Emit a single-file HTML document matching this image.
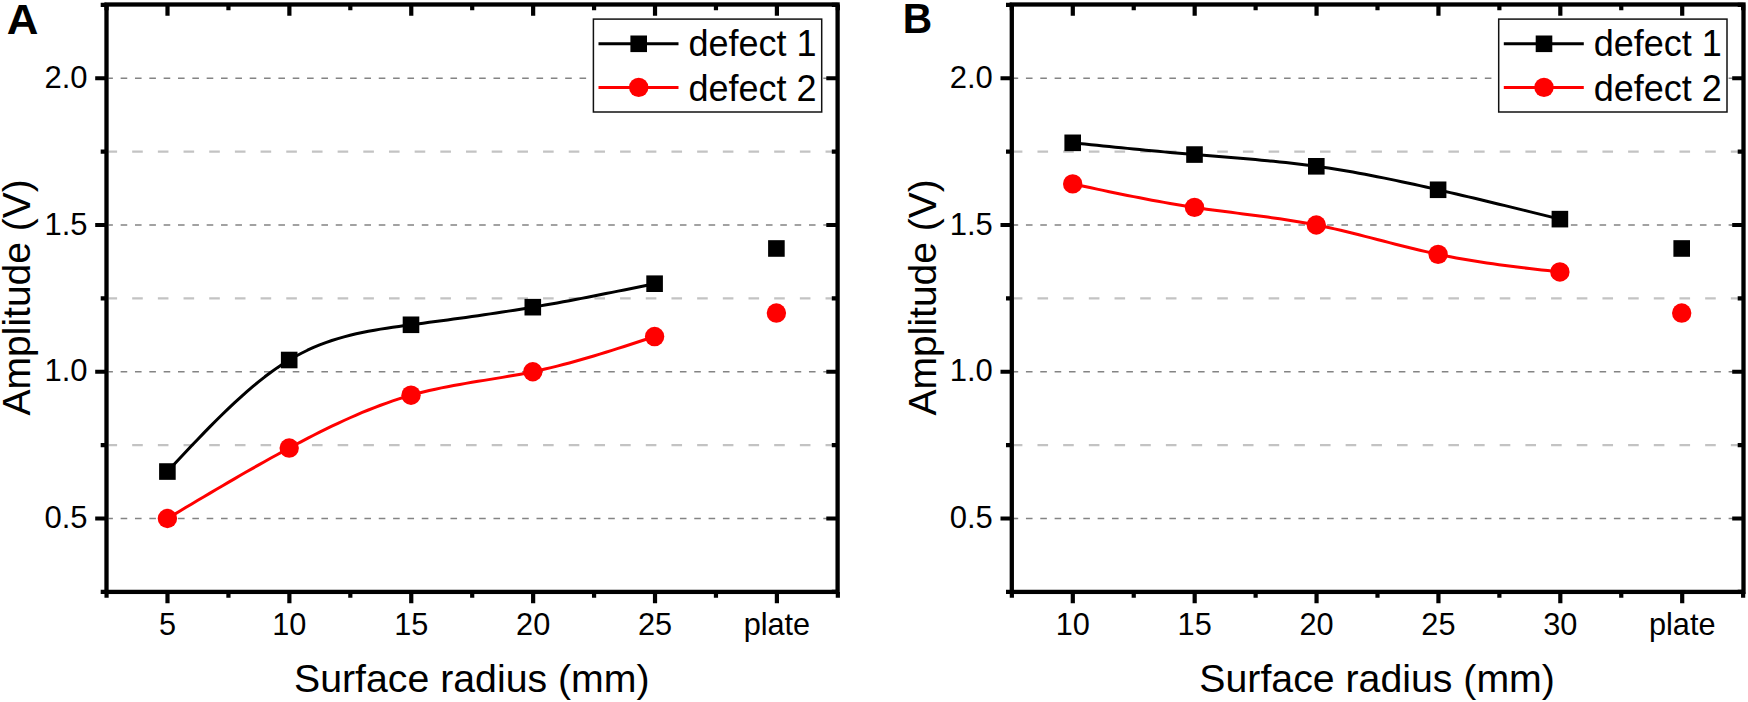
<!DOCTYPE html>
<html lang="en">
<head>
<meta charset="utf-8">
<title>Amplitude vs surface radius</title>
<style>
html,body{margin:0;padding:0;background:#fff;}
body{width:1748px;height:702px;overflow:hidden;}
svg{display:block;}
svg text{font-family:"Liberation Sans",sans-serif;fill:#000;}
</style>
</head>
<body>
<svg width="1748" height="702" viewBox="0 0 1748 702">
<rect width="1748" height="702" fill="#fff"/>
<g id="panelA">
<line x1="108.5" y1="518.5" x2="835.6" y2="518.5" stroke="#848484" stroke-width="1.65" stroke-dasharray="6.6 7.74" stroke-dashoffset="2.2"/>
<line x1="108.5" y1="371.75" x2="835.6" y2="371.75" stroke="#848484" stroke-width="1.65" stroke-dasharray="6.6 7.74" stroke-dashoffset="2.2"/>
<line x1="108.5" y1="225" x2="835.6" y2="225" stroke="#848484" stroke-width="1.65" stroke-dasharray="6.6 7.74" stroke-dashoffset="2.2"/>
<line x1="108.5" y1="78.25" x2="835.6" y2="78.25" stroke="#848484" stroke-width="1.65" stroke-dasharray="6.6 7.74" stroke-dashoffset="2.2"/>
<line x1="108.5" y1="445.12" x2="835.6" y2="445.12" stroke="#c3c3c3" stroke-width="2.45" stroke-dasharray="10.6 15.08" stroke-dashoffset="2.0"/>
<line x1="108.5" y1="298.38" x2="835.6" y2="298.38" stroke="#c3c3c3" stroke-width="2.45" stroke-dasharray="10.6 15.08" stroke-dashoffset="2.0"/>
<line x1="108.5" y1="151.62" x2="835.6" y2="151.62" stroke="#c3c3c3" stroke-width="2.45" stroke-dasharray="10.6 15.08" stroke-dashoffset="2.0"/>
<polyline points="167.4,471.54 173.49,465.01 179.58,458.5 185.67,452.01 191.76,445.57 197.85,439.19 203.94,432.87 210.03,426.65 216.12,420.52 222.21,414.51 228.3,408.62 234.39,402.88 240.48,397.3 246.57,391.88 252.66,386.66 258.75,381.63 264.84,376.82 270.93,372.24 277.02,367.9 283.11,363.82 289.2,360.01 295.29,356.48 301.38,353.23 307.47,350.23 313.56,347.47 319.65,344.95 325.74,342.63 331.83,340.52 337.92,338.6 344.01,336.84 350.1,335.25 356.19,333.79 362.28,332.47 368.37,331.26 374.46,330.15 380.55,329.12 386.64,328.17 392.73,327.28 398.82,326.42 404.91,325.6 411,324.79 417.09,323.98 423.18,323.17 429.27,322.36 435.36,321.55 441.45,320.73 447.54,319.91 453.63,319.08 459.72,318.24 465.81,317.39 471.9,316.54 477.99,315.67 484.08,314.79 490.17,313.89 496.26,312.99 502.35,312.06 508.44,311.12 514.53,310.17 520.62,309.19 526.71,308.2 532.8,307.18 538.89,306.14 544.98,305.08 551.07,304 557.16,302.91 563.25,301.79 569.34,300.66 575.43,299.51 581.52,298.35 587.61,297.18 593.7,295.99 599.79,294.79 605.88,293.59 611.97,292.37 618.06,291.14 624.15,289.91 630.24,288.68 636.33,287.44 642.42,286.19 648.51,284.95 654.6,283.7" fill="none" stroke="#000" stroke-width="3" stroke-linejoin="round"/>
<polyline points="167.4,518.5 173.49,514.86 179.58,511.22 185.67,507.58 191.76,503.95 197.85,500.32 203.94,496.71 210.03,493.11 216.12,489.51 222.21,485.94 228.3,482.38 234.39,478.83 240.48,475.31 246.57,471.81 252.66,468.33 258.75,464.88 264.84,461.45 270.93,458.06 277.02,454.69 283.11,451.36 289.2,448.06 295.29,444.8 301.38,441.58 307.47,438.4 313.56,435.27 319.65,432.19 325.74,429.18 331.83,426.22 337.92,423.33 344.01,420.5 350.1,417.75 356.19,415.08 362.28,412.49 368.37,409.99 374.46,407.58 380.55,405.26 386.64,403.04 392.73,400.92 398.82,398.91 404.91,397.01 411,395.23 417.09,393.56 423.18,392.01 429.27,390.55 435.36,389.19 441.45,387.9 447.54,386.69 453.63,385.53 459.72,384.43 465.81,383.38 471.9,382.35 477.99,381.35 484.08,380.36 490.17,379.37 496.26,378.38 502.35,377.37 508.44,376.34 514.53,375.27 520.62,374.15 526.71,372.98 532.8,371.75 538.89,370.45 544.98,369.07 551.07,367.63 557.16,366.12 563.25,364.56 569.34,362.94 575.43,361.27 581.52,359.55 587.61,357.79 593.7,355.99 599.79,354.15 605.88,352.27 611.97,350.37 618.06,348.44 624.15,346.49 630.24,344.52 636.33,342.54 642.42,340.54 648.51,338.54 654.6,336.53" fill="none" stroke="#f00" stroke-width="3" stroke-linejoin="round"/>
<rect x="159.1" y="463.24" width="16.6" height="16.6" fill="#000"/>
<rect x="280.9" y="351.71" width="16.6" height="16.6" fill="#000"/>
<rect x="402.7" y="316.49" width="16.6" height="16.6" fill="#000"/>
<rect x="524.5" y="298.88" width="16.6" height="16.6" fill="#000"/>
<rect x="646.3" y="275.4" width="16.6" height="16.6" fill="#000"/>
<rect x="768.1" y="240.18" width="16.6" height="16.6" fill="#000"/>
<circle cx="167.4" cy="518.5" r="9.7" fill="#f00"/>
<circle cx="289.2" cy="448.06" r="9.7" fill="#f00"/>
<circle cx="411" cy="395.23" r="9.7" fill="#f00"/>
<circle cx="532.8" cy="371.75" r="9.7" fill="#f00"/>
<circle cx="654.6" cy="336.53" r="9.7" fill="#f00"/>
<circle cx="776.4" cy="313.05" r="9.7" fill="#f00"/>
<rect x="106.5" y="4.5" width="731.1" height="587.4" fill="none" stroke="#000" stroke-width="4.3"/>
<path d="M106.56 591.9v5.8 M106.56 4.5v5.8 M167.5 591.9v11.3 M167.5 4.5v11.3 M228.44 591.9v5.8 M228.44 4.5v5.8 M289.38 591.9v11.3 M289.38 4.5v11.3 M350.32 591.9v5.8 M350.32 4.5v5.8 M411.26 591.9v11.3 M411.26 4.5v11.3 M472.2 591.9v5.8 M472.2 4.5v5.8 M533.14 591.9v11.3 M533.14 4.5v11.3 M594.08 591.9v5.8 M594.08 4.5v5.8 M655.02 591.9v11.3 M655.02 4.5v11.3 M715.96 591.9v5.8 M715.96 4.5v5.8 M776.9 591.9v11.3 M776.9 4.5v11.3 M837.84 591.9v5.8 M837.84 4.5v5.8 M106.5 591.88h-5.8 M837.6 591.88h-5.8 M106.5 518.5h-11.3 M837.6 518.5h-11.3 M106.5 445.12h-5.8 M837.6 445.12h-5.8 M106.5 371.75h-11.3 M837.6 371.75h-11.3 M106.5 298.38h-5.8 M837.6 298.38h-5.8 M106.5 225h-11.3 M837.6 225h-11.3 M106.5 151.62h-5.8 M837.6 151.62h-5.8 M106.5 78.25h-11.3 M837.6 78.25h-11.3 M106.5 4.88h-5.8 M837.6 4.88h-5.8" stroke="#000" stroke-width="4.2" fill="none"/>
<text x="167.5" y="634.8" text-anchor="middle" font-size="30.7">5</text>
<text x="289.38" y="634.8" text-anchor="middle" font-size="30.7">10</text>
<text x="411.26" y="634.8" text-anchor="middle" font-size="30.7">15</text>
<text x="533.14" y="634.8" text-anchor="middle" font-size="30.7">20</text>
<text x="655.02" y="634.8" text-anchor="middle" font-size="30.7">25</text>
<text x="776.9" y="634.8" text-anchor="middle" font-size="30.7">plate</text>
<text x="87.5" y="528.1" text-anchor="end" font-size="31">0.5</text>
<text x="87.5" y="381.35" text-anchor="end" font-size="31">1.0</text>
<text x="87.5" y="234.6" text-anchor="end" font-size="31">1.5</text>
<text x="87.5" y="87.85" text-anchor="end" font-size="31">2.0</text>
<text x="471.8" y="691.8" text-anchor="middle" font-size="39.25">Surface radius (mm)</text>
<text transform="translate(30.4 297.3) rotate(-90)" text-anchor="middle" font-size="39">Amplitude (V)</text>
<text transform="translate(6.7 33.7) scale(1.054 1.025)" font-size="41.6" font-weight="bold">A</text>
<rect x="593.4" y="19.1" width="228.3" height="92.9" fill="#fff" stroke="#111" stroke-width="1.5"/>
<line x1="598.5" y1="43.8" x2="678.5" y2="43.8" stroke="#000" stroke-width="3"/>
<rect x="630.4" y="35.5" width="16.6" height="16.6" fill="#000"/>
<line x1="598.5" y1="87.4" x2="678.5" y2="87.4" stroke="#f00" stroke-width="3"/>
<circle cx="638.7" cy="87.4" r="9.7" fill="#f00"/>
<text x="688.5" y="55.9" font-size="36">defect 1</text>
<text x="688.5" y="100.9" font-size="36">defect 2</text>
</g>
<g id="panelB" transform="translate(905.3 0)">
<line x1="108.5" y1="518.5" x2="836.2" y2="518.5" stroke="#848484" stroke-width="1.65" stroke-dasharray="6.6 7.74" stroke-dashoffset="2.2"/>
<line x1="108.5" y1="371.75" x2="836.2" y2="371.75" stroke="#848484" stroke-width="1.65" stroke-dasharray="6.6 7.74" stroke-dashoffset="2.2"/>
<line x1="108.5" y1="225" x2="836.2" y2="225" stroke="#848484" stroke-width="1.65" stroke-dasharray="6.6 7.74" stroke-dashoffset="2.2"/>
<line x1="108.5" y1="78.25" x2="836.2" y2="78.25" stroke="#848484" stroke-width="1.65" stroke-dasharray="6.6 7.74" stroke-dashoffset="2.2"/>
<line x1="108.5" y1="445.12" x2="836.2" y2="445.12" stroke="#c3c3c3" stroke-width="2.45" stroke-dasharray="10.6 15.08" stroke-dashoffset="2.0"/>
<line x1="108.5" y1="298.38" x2="836.2" y2="298.38" stroke="#c3c3c3" stroke-width="2.45" stroke-dasharray="10.6 15.08" stroke-dashoffset="2.0"/>
<line x1="108.5" y1="151.62" x2="836.2" y2="151.62" stroke="#c3c3c3" stroke-width="2.45" stroke-dasharray="10.6 15.08" stroke-dashoffset="2.0"/>
<polyline points="167.4,142.82 173.49,143.44 179.58,144.07 185.67,144.69 191.76,145.31 197.85,145.93 203.94,146.54 210.03,147.15 216.12,147.76 222.21,148.37 228.3,148.97 234.39,149.56 240.48,150.15 246.57,150.73 252.66,151.3 258.75,151.87 264.84,152.42 270.93,152.97 277.02,153.51 283.11,154.04 289.2,154.56 295.29,155.07 301.38,155.57 307.47,156.06 313.56,156.56 319.65,157.05 325.74,157.54 331.83,158.04 337.92,158.55 344.01,159.07 350.1,159.6 356.19,160.15 362.28,160.72 368.37,161.31 374.46,161.93 380.55,162.57 386.64,163.25 392.73,163.95 398.82,164.7 404.91,165.48 411,166.3 417.09,167.17 423.18,168.07 429.27,169.02 435.36,170.01 441.45,171.03 447.54,172.1 453.63,173.19 459.72,174.32 465.81,175.48 471.9,176.66 477.99,177.88 484.08,179.12 490.17,180.39 496.26,181.67 502.35,182.98 508.44,184.31 514.53,185.65 520.62,187.02 526.71,188.39 532.8,189.78 538.89,191.18 544.98,192.59 551.07,194.01 557.16,195.44 563.25,196.88 569.34,198.32 575.43,199.78 581.52,201.24 587.61,202.71 593.7,204.18 599.79,205.66 605.88,207.14 611.97,208.63 618.06,210.12 624.15,211.62 630.24,213.12 636.33,214.62 642.42,216.12 648.51,217.63 654.6,219.13" fill="none" stroke="#000" stroke-width="3" stroke-linejoin="round"/>
<polyline points="167.4,183.91 173.49,185.21 179.58,186.52 185.67,187.82 191.76,189.11 197.85,190.39 203.94,191.67 210.03,192.93 216.12,194.18 222.21,195.42 228.3,196.63 234.39,197.83 240.48,199 246.57,200.16 252.66,201.28 258.75,202.38 264.84,203.45 270.93,204.49 277.02,205.49 283.11,206.46 289.2,207.39 295.29,208.28 301.38,209.14 307.47,209.97 313.56,210.78 319.65,211.57 325.74,212.35 331.83,213.12 337.92,213.89 344.01,214.66 350.1,215.45 356.19,216.25 362.28,217.07 368.37,217.91 374.46,218.79 380.55,219.7 386.64,220.65 392.73,221.65 398.82,222.71 404.91,223.82 411,225 417.09,226.24 423.18,227.55 429.27,228.91 435.36,230.33 441.45,231.78 447.54,233.27 453.63,234.8 459.72,236.34 465.81,237.91 471.9,239.48 477.99,241.06 484.08,242.63 490.17,244.2 496.26,245.75 502.35,247.27 508.44,248.77 514.53,250.24 520.62,251.66 526.71,253.03 532.8,254.35 538.89,255.61 544.98,256.81 551.07,257.96 557.16,259.05 563.25,260.09 569.34,261.09 575.43,262.05 581.52,262.96 587.61,263.84 593.7,264.69 599.79,265.5 605.88,266.29 611.97,267.05 618.06,267.79 624.15,268.52 630.24,269.22 636.33,269.92 642.42,270.6 648.51,271.28 654.6,271.96" fill="none" stroke="#f00" stroke-width="3" stroke-linejoin="round"/>
<rect x="159.1" y="134.52" width="16.6" height="16.6" fill="#000"/>
<rect x="280.9" y="146.26" width="16.6" height="16.6" fill="#000"/>
<rect x="402.7" y="158" width="16.6" height="16.6" fill="#000"/>
<rect x="524.5" y="181.48" width="16.6" height="16.6" fill="#000"/>
<rect x="646.3" y="210.83" width="16.6" height="16.6" fill="#000"/>
<rect x="768.1" y="240.18" width="16.6" height="16.6" fill="#000"/>
<circle cx="167.4" cy="183.91" r="9.7" fill="#f00"/>
<circle cx="289.2" cy="207.39" r="9.7" fill="#f00"/>
<circle cx="411" cy="225" r="9.7" fill="#f00"/>
<circle cx="532.8" cy="254.35" r="9.7" fill="#f00"/>
<circle cx="654.6" cy="271.96" r="9.7" fill="#f00"/>
<circle cx="776.4" cy="313.05" r="9.7" fill="#f00"/>
<rect x="106.5" y="4.5" width="731.7" height="587.4" fill="none" stroke="#000" stroke-width="4.3"/>
<path d="M106.56 591.9v5.8 M106.56 4.5v5.8 M167.5 591.9v11.3 M167.5 4.5v11.3 M228.44 591.9v5.8 M228.44 4.5v5.8 M289.38 591.9v11.3 M289.38 4.5v11.3 M350.32 591.9v5.8 M350.32 4.5v5.8 M411.26 591.9v11.3 M411.26 4.5v11.3 M472.2 591.9v5.8 M472.2 4.5v5.8 M533.14 591.9v11.3 M533.14 4.5v11.3 M594.08 591.9v5.8 M594.08 4.5v5.8 M655.02 591.9v11.3 M655.02 4.5v11.3 M715.96 591.9v5.8 M715.96 4.5v5.8 M776.9 591.9v11.3 M776.9 4.5v11.3 M837.84 591.9v5.8 M837.84 4.5v5.8 M106.5 591.88h-5.8 M838.2 591.88h-5.8 M106.5 518.5h-11.3 M838.2 518.5h-11.3 M106.5 445.12h-5.8 M838.2 445.12h-5.8 M106.5 371.75h-11.3 M838.2 371.75h-11.3 M106.5 298.38h-5.8 M838.2 298.38h-5.8 M106.5 225h-11.3 M838.2 225h-11.3 M106.5 151.62h-5.8 M838.2 151.62h-5.8 M106.5 78.25h-11.3 M838.2 78.25h-11.3 M106.5 4.88h-5.8 M838.2 4.88h-5.8" stroke="#000" stroke-width="4.2" fill="none"/>
<text x="167.5" y="634.8" text-anchor="middle" font-size="30.7">10</text>
<text x="289.38" y="634.8" text-anchor="middle" font-size="30.7">15</text>
<text x="411.26" y="634.8" text-anchor="middle" font-size="30.7">20</text>
<text x="533.14" y="634.8" text-anchor="middle" font-size="30.7">25</text>
<text x="655.02" y="634.8" text-anchor="middle" font-size="30.7">30</text>
<text x="776.9" y="634.8" text-anchor="middle" font-size="30.7">plate</text>
<text x="87.5" y="528.1" text-anchor="end" font-size="31">0.5</text>
<text x="87.5" y="381.35" text-anchor="end" font-size="31">1.0</text>
<text x="87.5" y="234.6" text-anchor="end" font-size="31">1.5</text>
<text x="87.5" y="87.85" text-anchor="end" font-size="31">2.0</text>
<text x="471.8" y="691.8" text-anchor="middle" font-size="39.25">Surface radius (mm)</text>
<text transform="translate(30.4 297.3) rotate(-90)" text-anchor="middle" font-size="39">Amplitude (V)</text>
<text transform="translate(-2.6 33.2) scale(0.98 1.03)" font-size="41.6" font-weight="bold">B</text>
<rect x="593.4" y="19.1" width="228.3" height="92.9" fill="#fff" stroke="#111" stroke-width="1.5"/>
<line x1="598.5" y1="43.8" x2="678.5" y2="43.8" stroke="#000" stroke-width="3"/>
<rect x="630.4" y="35.5" width="16.6" height="16.6" fill="#000"/>
<line x1="598.5" y1="87.4" x2="678.5" y2="87.4" stroke="#f00" stroke-width="3"/>
<circle cx="638.7" cy="87.4" r="9.7" fill="#f00"/>
<text x="688.5" y="55.9" font-size="36">defect 1</text>
<text x="688.5" y="100.9" font-size="36">defect 2</text>
</g>
</svg>
</body>
</html>
